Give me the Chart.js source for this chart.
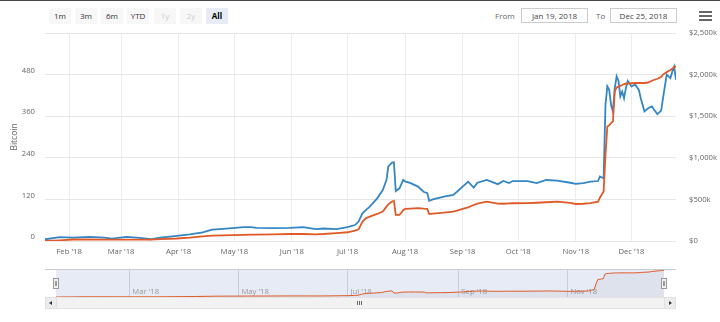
<!DOCTYPE html>
<html>
<head>
<meta charset="utf-8">
<script src="https://cdn.jsdelivr.net/npm/chart.js@4.4.0/dist/chart.umd.min.js"></script>
<style>
  body { margin: 0; width: 720px; height: 322px; overflow: hidden; background: #fff; font-family: "Open Sans", sans-serif; position: relative; }
  .abs { position: absolute; box-sizing: border-box; }
  .topline { left: 0; top: 0; width: 720px; height: 1px; background: #444; }
  .btn { top: 8px; width: 22px; height: 16px; background: #f7f7f7; color: #333; font-size: 8px; line-height: 16px; text-align: center; border-radius: 1px; }
  .btn.off { color: #ccc; }
  .btn.on { background: #e6ebf5; color: #000; font-weight: bold; }
  .lbl { top: 8px; font-size: 8px; line-height: 15px; color: #666; }
  .inp { top: 8px; height: 15px; border: 1px solid #ccc; font-size: 8px; line-height: 13px; text-align: center; color: #444; }
  .bar { left: 699px; width: 13px; height: 2px; background: #666; }
  .navtop { left: 45px; top: 269px; width: 631px; height: 1px; background: #ccc; }
  .handle { top: 278px; width: 6px; height: 11px; background: #f2f2f2; border: 1px solid #999; }
  .handle::after { content: ""; position: absolute; left: 1px; top: 2px; width: 2px; height: 5px; border-left: 1px solid #999; border-right: 1px solid #999; box-sizing: border-box; }
  .scroll { left: 45px; top: 297px; width: 631px; height: 12px; background: #f2f2f2; border: 1px solid #e3e3e3; }
  .sbtn { top: 297px; width: 12px; height: 12px; background: #ececec; border: 1px solid #e0e0e0; }
  .arrow { width: 0; height: 0; border-top: 2px solid transparent; border-bottom: 2px solid transparent; }
  .grip { top: 301px; width: 1px; height: 4px; background: #666; }
</style>
</head>
<body>
<div class="abs topline"></div>

<div class="abs btn" style="left:49px">1m</div>
<div class="abs btn" style="left:75px">3m</div>
<div class="abs btn" style="left:101px">6m</div>
<div class="abs btn" style="left:127px">YTD</div>
<div class="abs btn off" style="left:154px">1y</div>
<div class="abs btn off" style="left:180px">2y</div>
<div class="abs btn on" style="left:206px">All</div>

<div class="abs lbl" style="left:495px">From</div>
<div class="abs inp" style="left:521px;width:67px">Jan 19, 2018</div>
<div class="abs lbl" style="left:596px">To</div>
<div class="abs inp" style="left:610px;width:67px">Dec 25, 2018</div>
<div class="abs bar" style="top:11px"></div>
<div class="abs bar" style="top:15px"></div>
<div class="abs bar" style="top:19px"></div>

<canvas id="main" class="abs" style="left:0;top:0" width="720" height="265"></canvas>
<canvas id="nav" class="abs" style="left:0;top:265px" width="720" height="57"></canvas>

<div class="abs navtop"></div>
<div class="abs handle" style="left:53px"></div>
<div class="abs handle" style="left:661px"></div>

<div class="abs scroll"></div>
<div class="abs sbtn" style="left:45px"><div class="abs arrow" style="left:3px;top:3px;border-right:3px solid #333"></div></div>
<div class="abs sbtn" style="left:664px"><div class="abs arrow" style="left:4px;top:3px;border-left:3px solid #333"></div></div>
<div class="abs grip" style="left:357px"></div>
<div class="abs grip" style="left:359px"></div>
<div class="abs grip" style="left:361px"></div>

<script>
const dates = [
  '2018-01-19','2018-01-27','2018-02-03','2018-02-12','2018-02-20','2018-02-24','2018-03-04','2018-03-11','2018-03-17','2018-03-22','2018-03-31',
  '2018-04-07','2018-04-14','2018-04-19','2018-04-25','2018-04-30','2018-05-06','2018-05-10','2018-05-13','2018-05-22','2018-05-31',
  '2018-06-07','2018-06-14','2018-06-18','2018-06-25','2018-07-01','2018-07-05','2018-07-07','2018-07-09','2018-07-11','2018-07-13',
  '2018-07-17','2018-07-20','2018-07-22','2018-07-23','2018-07-25','2018-07-26','2018-07-27','2018-07-29','2018-07-31',
  '2018-08-01','2018-08-04','2018-08-08','2018-08-11','2018-08-13','2018-08-14','2018-08-16','2018-08-22','2018-08-27','2018-08-29',
  '2018-09-01','2018-09-04','2018-09-07','2018-09-09','2018-09-14','2018-09-20','2018-09-23','2018-09-26','2018-09-28',
  '2018-10-06','2018-10-11','2018-10-16','2018-10-22','2018-10-29',
  '2018-11-01','2018-11-05','2018-11-09','2018-11-13','2018-11-14','2018-11-16','2018-11-17','2018-11-18','2018-11-19','2018-11-20',
  '2018-11-21','2018-11-22','2018-11-23','2018-11-24','2018-11-25','2018-11-26','2018-11-27','2018-11-28','2018-11-29',
  '2018-12-01','2018-12-03','2018-12-05','2018-12-06','2018-12-08','2018-12-10','2018-12-12','2018-12-13','2018-12-15','2018-12-17',
  '2018-12-18','2018-12-20','2018-12-22','2018-12-23','2018-12-24','2018-12-25'
];

// Bitcoin held (left axis)
const bitcoin = [
  5, 11, 10, 12, 10, 7, 12, 9, 5, 10, 15,
  19, 25, 33, 35, 37, 40, 40, 38, 37, 38,
  40, 34, 36, 34, 40, 46, 56, 80, 90, 99,
  123, 147, 176, 215, 226, 227, 144, 152, 176,
  172, 167, 157, 142, 138, 116, 120, 128, 133, 142,
  157, 171, 154, 168, 176, 164, 173, 167, 173,
  173, 167, 176, 174, 168,
  165, 167, 171, 173, 186, 181, 393, 446, 436, 393,
  374, 440, 475, 462, 417, 431, 412, 441, 462,
  446, 451, 436, 412, 374, 383, 388, 380, 366, 376,
  412, 480, 470, 489, 503, 465
];

// Value in $k (right axis)
const valueK = [
  0, 8, 18, 18, 16, 16, 17, 17, 17, 22, 30,
  40, 55, 64, 68, 70, 74, 76, 77, 80, 84,
  84, 80, 84, 95, 105, 125, 140, 230, 275, 293,
  325, 353, 413, 440, 475, 482, 313, 313, 370,
  385, 390, 394, 388, 385, 325, 330, 341, 353, 365,
  385, 405, 433, 450, 473, 450, 448, 452, 454,
  456, 460, 466, 473, 458,
  445, 448, 454, 473, 520, 594, 1035, 1376, 1390, 1417,
  1436, 1798, 1846, 1855, 1865, 1875, 1887, 1890, 1893,
  1896, 1899, 1899, 1899, 1899, 1905, 1926, 1935, 1950, 1970,
  2000, 2030, 2055, 2070, 2090, 2099
];

const monthTicks = ['2018-02-01','2018-03-01','2018-04-01','2018-05-01','2018-06-01','2018-07-01',
                    '2018-08-01','2018-09-01','2018-10-01','2018-11-01','2018-12-01'];
const navTicks = ['2018-03-01','2018-05-01','2018-07-01','2018-09-01','2018-11-01'];
const btcTicks = [0, 120, 240, 360, 480, 600];
const usdTicks = [0, 500, 1000, 1500, 2000, 2500];

const BLUE = '#3486c5';
const ORANGE = '#e05a28';
const FONT = '"Open Sans", sans-serif';
const MONTHS = ['Jan','Feb','Mar','Apr','May','Jun','Jul','Aug','Sep','Oct','Nov','Dec'];

const t0 = Date.parse(dates[0]);
const dayOf = d => (Date.parse(d) - t0) / 864e5;
const lastDay = dayOf(dates[dates.length - 1]);
const monthLabel = v => {
  const d = new Date(t0 + v * 864e5);
  return MONTHS[d.getUTCMonth()] + " '" + String(d.getUTCFullYear()).slice(2);
};
const pts = vals => dates.map((d, i) => ({ x: dayOf(d), y: vals[i] }));

new Chart(document.getElementById('main'), {
  type: 'line',
  data: {
    datasets: [
      { data: pts(bitcoin), yAxisID: 'y', borderColor: BLUE, borderWidth: 1.8, order: 2 },
      { data: pts(valueK), yAxisID: 'y1', borderColor: ORANGE, borderWidth: 1.8, order: 1 }
    ]
  },
  options: {
    responsive: false,
    animation: false,
    devicePixelRatio: 1,
    layout: { padding: { top: 33, left: 0, right: 0, bottom: 0 } },
    elements: { point: { radius: 0 }, line: { tension: 0 } },
    plugins: { legend: { display: false }, tooltip: { enabled: false } },
    scales: {
      x: {
        type: 'linear', min: 0, max: lastDay,
        afterBuildTicks: s => { s.ticks = monthTicks.map(d => ({ value: dayOf(d) })); },
        afterFit: s => { s.height = 24; },
        grid: { color: '#ececec', drawTicks: false },
        border: { display: false },
        ticks: { padding: 6, color: '#666', font: { size: 7.7, family: FONT }, maxRotation: 0, autoSkip: false,
                 callback: v => monthLabel(v) }
      },
      y: {
        position: 'left', min: 0, max: 600,
        afterBuildTicks: s => { s.ticks = btcTicks.map(v => ({ value: v })); },
        afterFit: s => { s.width = 45; },
        grid: { color: '#e6e6e6', drawTicks: false },
        border: { display: false },
        ticks: { padding: 10, labelOffset: -4, color: '#666', font: { size: 7.7, family: FONT },
                 callback: v => v === 600 ? '' : String(v) },
        title: { display: true, text: 'Bitcoin', color: '#666', font: { size: 8.5, family: FONT }, padding: { top: 9, bottom: 0 } }
      },
      y1: {
        position: 'right', min: 0, max: 2500,
        afterBuildTicks: s => { s.ticks = usdTicks.map(v => ({ value: v })); },
        afterFit: s => { s.width = 44; },
        grid: { display: false },
        border: { display: false },
        ticks: { padding: 5, color: '#666', font: { size: 7.7, family: FONT },
                 callback: v => v === 0 ? '$0' : '$' + v.toString().replace(/\B(?=(\d{3})+(?!\d))/g, ',') + 'k' }
      }
    }
  }
});

// navigator strip: shaded range, month labels inside the plot, small area line
const navDecor = {
  id: 'navDecor',
  beforeDatasetsDraw(chart) {
    const { ctx, chartArea: a, scales } = chart;
    ctx.save();
    ctx.fillStyle = 'rgba(102,133,194,0.16)';
    ctx.fillRect(a.left, a.top, a.right - a.left, a.bottom - a.top);
    ctx.fillStyle = '#999';
    ctx.font = '7.7px ' + FONT;
    ctx.textBaseline = 'middle';
    scales.x.ticks.forEach(t => ctx.fillText(monthLabel(t.value), scales.x.getPixelForValue(t.value) + 3, 27));
    ctx.restore();
  }
};

new Chart(document.getElementById('nav'), {
  type: 'line',
  data: {
    datasets: [
      { data: pts(valueK), borderColor: ORANGE, borderWidth: 1, fill: 'origin', backgroundColor: 'rgba(120,110,140,0.08)' }
    ]
  },
  plugins: [navDecor],
  options: {
    responsive: false,
    animation: false,
    devicePixelRatio: 1,
    layout: { padding: { top: 4, left: 56, right: 56, bottom: 25 } },
    elements: { point: { radius: 0 }, line: { tension: 0 } },
    plugins: { legend: { display: false }, tooltip: { enabled: false } },
    scales: {
      x: {
        type: 'linear', min: 0, max: lastDay,
        afterBuildTicks: s => { s.ticks = navTicks.map(d => ({ value: dayOf(d) })); },
        afterFit: s => { s.height = 0; },
        grid: { color: '#d8dce6', drawTicks: false },
        border: { display: false },
        ticks: { display: false }
      },
      y: { display: false, min: 0, max: 2200 }
    }
  }
});
</script>
</body>
</html>
